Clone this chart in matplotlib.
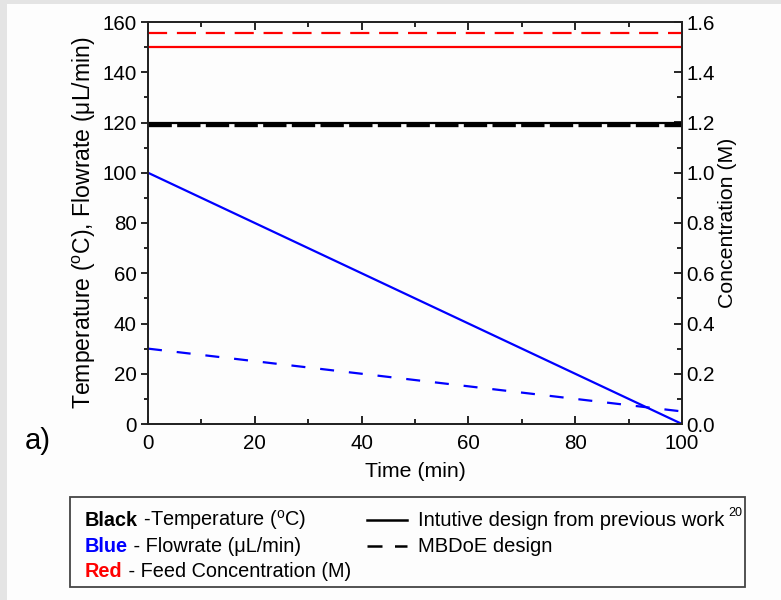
import matplotlib
matplotlib.use("Agg")
import matplotlib.pyplot as plt
from matplotlib.patches import Rectangle
from matplotlib.lines import Line2D
from matplotlib.ticker import MultipleLocator, FormatStrFormatter

plt.rcParams['font.family'] = ['Liberation Sans', 'DejaVu Sans']
plt.rcParams['mathtext.fontset'] = 'custom'
plt.rcParams['mathtext.rm'] = 'Liberation Sans'
plt.rcParams['mathtext.it'] = 'Liberation Sans:italic'
plt.rcParams['mathtext.bf'] = 'Liberation Sans:bold'

# Time axis (min)
time = [0, 100]

# Temperature (oC)
temp_intuitive = [120, 120]
temp_mbdoe = [119, 119]

# Flowrate (uL/min)
flow_intuitive = [100, 0]
flow_mbdoe = [30, 5]

# Feed concentration (M)
conc_intuitive = [1.50, 1.50]
conc_mbdoe = [1.555, 1.555]

W, H = 781, 600
fig = plt.figure(figsize=(W / 100, H / 100), dpi=100)
fig.patch.set_facecolor('#fdfdfd')

# light grey frame strips along top and left edges
fig.patches.append(Rectangle((0, 1 - 4 / H), 1, 4 / H, transform=fig.transFigure,
                             facecolor='#e4e4e4', edgecolor='none', zorder=0))
fig.patches.append(Rectangle((0, 0), 7 / W, 1, transform=fig.transFigure,
                             facecolor='#e4e4e4', edgecolor='none', zorder=0))

ax = fig.add_axes([148 / W, 1 - 424 / H, (682 - 148) / W, (424 - 22) / H])
ax.set_facecolor('none')
ax2 = ax.twinx()

lw = 1.6
ax.plot(time, temp_intuitive, color='black', lw=lw, solid_capstyle='butt')
ax.plot(time, temp_mbdoe, color='black', lw=lw + 0.8, dashes=(7, 1.6))
ax.plot(time, flow_intuitive, color='#0000ff', lw=lw)
ax.plot(time, flow_mbdoe, color='#0000ff', lw=lw, dashes=(6.3, 6.7))
ax2.plot(time, conc_intuitive, color='#ff0000', lw=lw)
ax2.plot(time, conc_mbdoe, color='#ff0000', lw=lw, dashes=(8.6, 4.4))

ax.set_xlim(0, 100)
ax.set_ylim(0, 160)
ax2.set_ylim(0, 1.6)

fs = 14.8
lab_fs = 15.3
ax.xaxis.set_major_locator(MultipleLocator(20))
ax.xaxis.set_minor_locator(MultipleLocator(10))
ax.yaxis.set_major_locator(MultipleLocator(20))
ax.yaxis.set_minor_locator(MultipleLocator(10))
ax2.yaxis.set_major_locator(MultipleLocator(0.2))
ax2.yaxis.set_minor_locator(MultipleLocator(0.1))
ax2.yaxis.set_major_formatter(FormatStrFormatter('%.1f'))

for a in (ax, ax2):
    for s in a.spines.values():
        s.set_linewidth(1.3)
        s.set_color('#222222')

ax.tick_params(axis='x', which='both', direction='in', top=True, labelsize=fs, pad=7)
ax.tick_params(axis='x', which='major', length=6, width=1.2)
ax.tick_params(axis='x', which='minor', length=3.5, width=1.2)
ax.tick_params(axis='y', which='both', direction='out', labelsize=fs, pad=3)
ax.tick_params(axis='y', which='major', length=5, width=1.2)
ax.tick_params(axis='y', which='minor', length=3, width=1.2)
ax2.tick_params(axis='y', which='both', direction='in', labelsize=fs, pad=3)
ax2.tick_params(axis='y', which='major', length=6, width=1.2)
ax2.tick_params(axis='y', which='minor', length=3.5, width=1.2)

ax.set_xlabel('Time (min)', fontsize=lab_fs, labelpad=7)
ax.set_ylabel(r'Temperature ($^{\rm o}$C), Flowrate ($\mathrm{\mu}$L/min)',
              fontsize=16.6, labelpad=3)
ax2.set_ylabel('Concentration (M)', fontsize=lab_fs, labelpad=2)

fig.text(25 / W, 1 - 449 / H, 'a)', fontsize=21, ha='left', va='baseline')

# key box below the plot
fig.patches.append(Rectangle((70 / W, 1 - 587 / H), (745 - 70) / W, (587 - 497) / H,
                             transform=fig.transFigure, facecolor='none',
                             edgecolor='#444444', lw=1.3, zorder=5))

lfs = 14.3
renderer = fig.canvas.get_renderer()


def colored_line(x, y, head, color, tail):
    t1 = fig.text(x / W, 1 - y / H, head, color=color, fontsize=lfs,
                  fontweight='bold', va='baseline', ha='left')
    bb = t1.get_window_extent(renderer)
    fig.text(bb.x1 / W, 1 - y / H, tail, color='black', fontsize=lfs,
             va='baseline', ha='left')


colored_line(85, 526, 'Black', 'black', r' -Temperature ($^{\rm o}$C)')
colored_line(85, 552, 'Blue', '#0000ff', ' - Flowrate (\u03bcL/min)')
colored_line(85, 577, 'Red', '#ff0000', ' - Feed Concentration (M)')

fig.lines.append(Line2D([367 / W, 407 / W], [1 - 520 / H, 1 - 520 / H],
                        transform=fig.transFigure, color='black', lw=1.8))
fig.lines.append(Line2D([367 / W, 407 / W], [1 - 546 / H, 1 - 546 / H],
                        transform=fig.transFigure, color='black', lw=1.8,
                        dashes=(6, 5)))
t = fig.text(418 / W, 1 - 526 / H, 'Intutive design from previous work', fontsize=14.5,
             va='baseline', ha='left')
bb = t.get_window_extent(renderer)
fig.text((bb.x1 + 4) / W, 1 - 516 / H, '20', fontsize=9, va='baseline', ha='left')
fig.text(418 / W, 1 - 552 / H, 'MBDoE design', fontsize=14.5, va='baseline', ha='left')

fig.savefig('out.png', dpi=100)
